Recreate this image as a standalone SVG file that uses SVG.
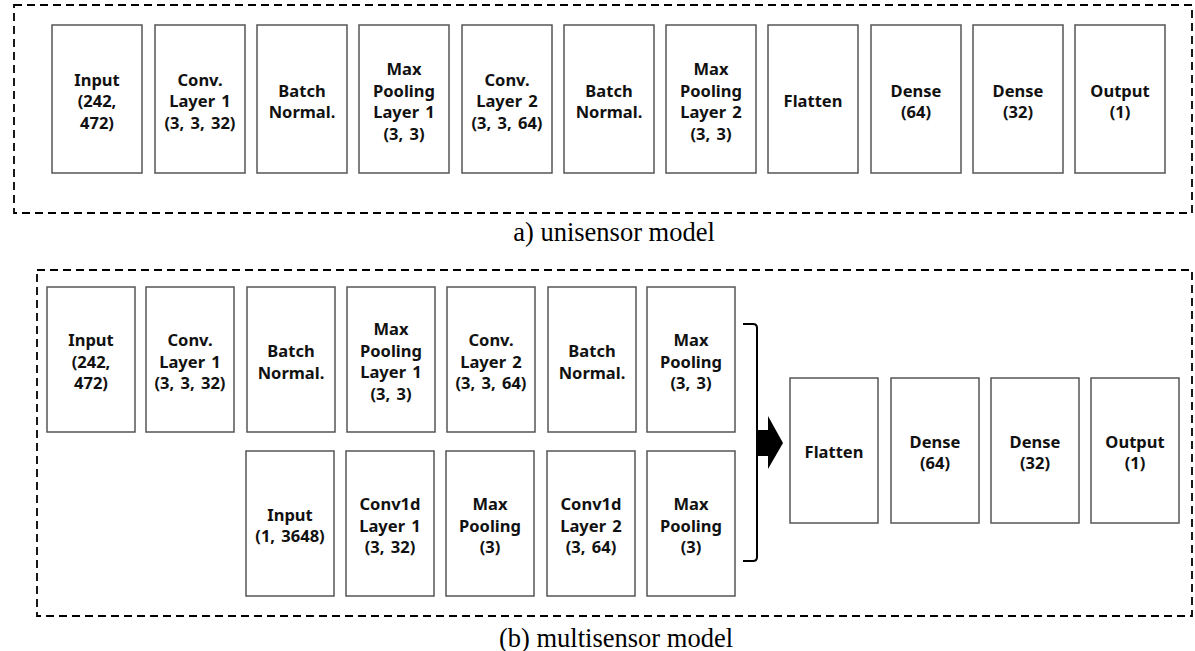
<svg xmlns="http://www.w3.org/2000/svg" width="1195" height="651" viewBox="0 0 1195 651">
<style>
.frame{fill:none;stroke:#000;stroke-width:1.8;stroke-dasharray:8 5}
.box rect{fill:#fff;stroke:#555;stroke-width:1.5}
.box text{font-family:"Noto Sans","Open Sans",sans-serif;font-weight:bold;font-size:16.5px;word-spacing:2px;fill:#111;text-anchor:middle}
.cap{font-family:"Liberation Serif","Times New Roman",serif;font-size:26.5px;fill:#000;text-anchor:middle}
.br{fill:none;stroke:#000;stroke-width:2}
</style>
<rect class="frame" x="14" y="5" width="1178" height="208"/>
<text class="cap" x="614" y="241">a) unisensor model</text>
<rect class="frame" x="37" y="270" width="1155" height="346"/>
<text class="cap" x="616" y="647">(b) multisensor model</text>

<!-- unisensor -->
<g id="u1" class="box"><rect x="52" y="25" width="90" height="148"/><text x="97" y="85.5">Input</text><text x="97" y="107">(242,</text><text x="97" y="128.5">472)</text></g>
<g id="u2" class="box"><rect x="155" y="25" width="90" height="148"/><text x="200" y="85.5">Conv.</text><text x="200" y="107">Layer 1</text><text x="200" y="128.5">(3, 3, 32)</text></g>
<g id="u3" class="box"><rect x="257" y="25" width="90" height="148"/><text x="302" y="96.5">Batch</text><text x="302" y="118">Normal.</text></g>
<g id="u4" class="box"><rect x="359" y="25" width="90" height="148"/><text x="404" y="75">Max</text><text x="404" y="96.5">Pooling</text><text x="404" y="118">Layer 1</text><text x="404" y="139.5">(3, 3)</text></g>
<g id="u5" class="box"><rect x="462" y="25" width="90" height="148"/><text x="507" y="85.5">Conv.</text><text x="507" y="107">Layer 2</text><text x="507" y="128.5">(3, 3, 64)</text></g>
<g id="u6" class="box"><rect x="564" y="25" width="90" height="148"/><text x="609" y="96.5">Batch</text><text x="609" y="118">Normal.</text></g>
<g id="u7" class="box"><rect x="666" y="25" width="90" height="148"/><text x="711" y="75">Max</text><text x="711" y="96.5">Pooling</text><text x="711" y="118">Layer 2</text><text x="711" y="139.5">(3, 3)</text></g>
<g id="u8" class="box"><rect x="768" y="25" width="90" height="148"/><text x="813" y="107">Flatten</text></g>
<g id="u9" class="box"><rect x="871" y="25" width="90" height="148"/><text x="916" y="96.5">Dense</text><text x="916" y="118">(64)</text></g>
<g id="u10" class="box"><rect x="973" y="25" width="90" height="148"/><text x="1018" y="96.5">Dense</text><text x="1018" y="118">(32)</text></g>
<g id="u11" class="box"><rect x="1075" y="25" width="90" height="148"/><text x="1120" y="96.5">Output</text><text x="1120" y="118">(1)</text></g>

<!-- multisensor image branch -->
<g id="m1" class="box"><rect x="47" y="287" width="88" height="145"/><text x="91" y="346">Input</text><text x="91" y="367.5">(242,</text><text x="91" y="389">472)</text></g>
<g id="m2" class="box"><rect x="146" y="287" width="88" height="145"/><text x="190" y="346">Conv.</text><text x="190" y="367.5">Layer 1</text><text x="190" y="389">(3, 3, 32)</text></g>
<g id="m3" class="box"><rect x="247" y="287" width="88" height="145"/><text x="291" y="357">Batch</text><text x="291" y="378.5">Normal.</text></g>
<g id="m4" class="box"><rect x="347" y="287" width="88" height="145"/><text x="391" y="335">Max</text><text x="391" y="356.5">Pooling</text><text x="391" y="378">Layer 1</text><text x="391" y="399.5">(3, 3)</text></g>
<g id="m5" class="box"><rect x="447" y="287" width="88" height="145"/><text x="491" y="346">Conv.</text><text x="491" y="367.5">Layer 2</text><text x="491" y="389">(3, 3, 64)</text></g>
<g id="m6" class="box"><rect x="548" y="287" width="88" height="145"/><text x="592" y="357">Batch</text><text x="592" y="378.5">Normal.</text></g>
<g id="m7" class="box"><rect x="647" y="287" width="88" height="145"/><text x="691" y="346">Max</text><text x="691" y="367.5">Pooling</text><text x="691" y="389">(3, 3)</text></g>

<!-- multisensor signal branch -->
<g id="s1" class="box"><rect x="246" y="451" width="88" height="145"/><text x="290" y="520.5">Input</text><text x="290" y="542">(1, 3648)</text></g>
<g id="s2" class="box"><rect x="346" y="451" width="88" height="145"/><text x="390" y="510">Conv1d</text><text x="390" y="531.5">Layer 1</text><text x="390" y="553">(3, 32)</text></g>
<g id="s3" class="box"><rect x="446" y="451" width="88" height="145"/><text x="490" y="510">Max</text><text x="490" y="531.5">Pooling</text><text x="490" y="553">(3)</text></g>
<g id="s4" class="box"><rect x="547" y="451" width="88" height="145"/><text x="591" y="510">Conv1d</text><text x="591" y="531.5">Layer 2</text><text x="591" y="553">(3, 64)</text></g>
<g id="s5" class="box"><rect x="647" y="451" width="88" height="145"/><text x="691" y="510">Max</text><text x="691" y="531.5">Pooling</text><text x="691" y="553">(3)</text></g>

<!-- multisensor head -->
<g id="h1" class="box"><rect x="790" y="378" width="88" height="145"/><text x="834" y="458">Flatten</text></g>
<g id="h2" class="box"><rect x="891" y="378" width="88" height="145"/><text x="935" y="447.5">Dense</text><text x="935" y="469">(64)</text></g>
<g id="h3" class="box"><rect x="991" y="378" width="88" height="145"/><text x="1035" y="447.5">Dense</text><text x="1035" y="469">(32)</text></g>
<g id="h4" class="box"><rect x="1091" y="378" width="88" height="145"/><text x="1135" y="447.5">Output</text><text x="1135" y="469">(1)</text></g>

<g id="connectors">
<path class="br" d="M743,324 H753 Q757,324 757,328 V557 Q757,561 753,561 H743"/>
<polygon points="757,430 768,430 768,416 783,443 768,469 768,456 757,456" fill="#000"/>
</g>
</svg>
